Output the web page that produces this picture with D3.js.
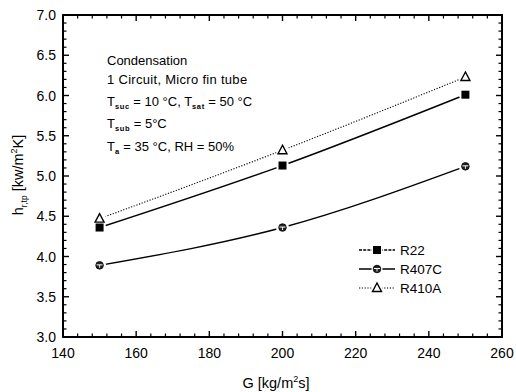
<!DOCTYPE html>
<html>
<head>
<meta charset="utf-8">
<script src="https://cdn.jsdelivr.net/npm/d3@7"></script>
<style>
  html, body { margin: 0; padding: 0; background: #fff; }
  svg { display: block; font-family: "Liberation Sans", Arial, Helvetica, sans-serif; }
</style>
</head>
<body>
<svg id="chart" width="516" height="392"></svg>
<script>
// Mass flux G [kg/m²s]
const massFlux = [150, 200, 250];
// Condensation heat transfer coefficient [kW/m²K]
const r22 = [4.36, 5.13, 6.01];
const r407c = [3.89, 4.36, 5.12];
const r410a = [4.47, 5.32, 6.23];
const seriesNames = ["R22", "R407C", "R410A"];
const xTicks = [140, 160, 180, 200, 220, 240, 260];
const yTicks = [3.0, 3.5, 4.0, 4.5, 5.0, 5.5, 6.0, 6.5, 7.0];

const svg = d3.select("#chart");
const W = 516, H = 392;
const m = { left: 63, right: 14, top: 15, bottom: 55 };
const pw = W - m.left - m.right, ph = H - m.top - m.bottom;

const x = d3.scaleLinear().domain([140, 260]).range([m.left, m.left + pw]);
const y = d3.scaleLinear().domain([3.0, 7.0]).range([m.top + ph, m.top]);

const series = [
  { name: seriesNames[0], values: r22, dash: null, legendDash: "3,1.2", width: 1.4, marker: "square" },
  { name: seriesNames[1], values: r407c, dash: null, legendDash: null, width: 1.4, marker: "circle" },
  { name: seriesNames[2], values: r410a, dash: "1.2,1.6", legendDash: "1.2,1.6", width: 1.1, marker: "triangle" }
];

// minor ticks
const xMinor = d3.range(140, 260.01, 4).filter(v => v % 20 !== 0);
const yMinor = d3.range(30, 70.1, 1).map(v => v / 10).filter(v => Math.round(v * 10) % 5 !== 0);

const g = svg.append("g");

// bottom/top axes with inward ticks
function hTicks(yPos, dir) {
  g.selectAll(null).data(xTicks).enter().append("line")
    .attr("x1", d => x(d)).attr("x2", d => x(d))
    .attr("y1", yPos).attr("y2", yPos + dir * 6)
    .attr("stroke", "#000").attr("stroke-width", 1.4);
  g.selectAll(null).data(xMinor).enter().append("line")
    .attr("x1", d => x(d)).attr("x2", d => x(d))
    .attr("y1", yPos).attr("y2", yPos + dir * 3.5)
    .attr("stroke", "#000").attr("stroke-width", 1.2);
}
function vTicks(xPos, dir) {
  g.selectAll(null).data(yTicks).enter().append("line")
    .attr("y1", d => y(d)).attr("y2", d => y(d))
    .attr("x1", xPos).attr("x2", xPos + dir * 6)
    .attr("stroke", "#000").attr("stroke-width", 1.4);
  g.selectAll(null).data(yMinor).enter().append("line")
    .attr("y1", d => y(d)).attr("y2", d => y(d))
    .attr("x1", xPos).attr("x2", xPos + dir * 3.5)
    .attr("stroke", "#000").attr("stroke-width", 1.2);
}
hTicks(y(3.0), -1);
hTicks(y(7.0), 1);
vTicks(x(140), 1);
vTicks(x(260), -1);

// frame
g.append("rect")
  .attr("x", x(140)).attr("y", y(7.0))
  .attr("width", x(260) - x(140)).attr("height", y(3.0) - y(7.0))
  .attr("fill", "none").attr("stroke", "#000").attr("stroke-width", 2);

// tick labels
g.selectAll(null).data(xTicks).enter().append("text")
  .attr("x", d => x(d)).attr("y", y(3.0) + 21)
  .attr("text-anchor", "middle").attr("font-size", 14)
  .text(d => d3.format("d")(d));
g.selectAll(null).data(yTicks).enter().append("text")
  .attr("x", x(140) - 7).attr("y", d => y(d) + 5)
  .attr("text-anchor", "end").attr("font-size", 14)
  .text(d => d3.format(".1f")(d));

// axis titles
const xt = g.append("text").attr("x", 276).attr("y", 388)
  .attr("text-anchor", "middle").attr("font-size", 14.5);
xt.append("tspan").text("G [kg/m");
xt.append("tspan").attr("font-size", 9).attr("dy", -6).text("2");
xt.append("tspan").attr("dy", 6).text("s]");

const yt = g.append("text")
  .attr("transform", `translate(23,175) rotate(-90)`)
  .attr("text-anchor", "middle").attr("font-size", 14.5);
yt.append("tspan").text("h");
yt.append("tspan").attr("font-size", 8.5).attr("dy", 4).text("r,tp");
yt.append("tspan").attr("dy", -4).text(" [kw/m");
yt.append("tspan").attr("font-size", 9).attr("dy", -6).text("2");
yt.append("tspan").attr("dy", 6).text("K]");

// curves through measured points
const line = d3.line().x((d, i) => x(massFlux[i])).y(d => y(d)).curve(d3.curveMonotoneX);
series.forEach(s => {
  g.append("path").attr("d", line(s.values))
    .attr("fill", "none").attr("stroke", "#000")
    .attr("stroke-width", s.width)
    .attr("stroke-dasharray", s.dash);
});

function drawMarker(sel, type, cx, cy) {
  if (type === "square") {
    sel.append("rect").attr("x", cx - 4).attr("y", cy - 4).attr("width", 8).attr("height", 8).attr("fill", "#000");
  } else if (type === "circle") {
    sel.append("circle").attr("cx", cx).attr("cy", cy).attr("r", 3.8).attr("fill", "#222").attr("stroke", "#000").attr("stroke-width", 0.8);
    sel.append("line").attr("x1", cx - 3).attr("x2", cx + 3).attr("y1", cy - 0.5).attr("y2", cy - 0.5).attr("stroke", "#fff").attr("stroke-width", 1);
    sel.append("line").attr("x1", cx).attr("x2", cx).attr("y1", cy - 0.5).attr("y2", cy + 2.5).attr("stroke", "#fff").attr("stroke-width", 0.9);
  } else {
    const p = [[cx, cy - 5], [cx - 4.5, cy + 3.5], [cx + 4.5, cy + 3.5]];
    sel.append("path").attr("d", "M" + p.join("L") + "Z").attr("fill", "#fff").attr("stroke", "#000").attr("stroke-width", 1.4);
  }
}

// markers with a small white gap around them
series.forEach(s => {
  s.values.forEach((v, i) => {
    g.append("circle").attr("cx", x(massFlux[i])).attr("cy", y(v)).attr("r", 6.5).attr("fill", "#fff");
  });
});
series.forEach(s => {
  s.values.forEach((v, i) => drawMarker(g, s.marker, x(massFlux[i]), y(v)));
});

// legend
const lg = g.append("g");
series.forEach((s, i) => {
  const ly = 250 + i * 19;
  lg.append("line").attr("x1", 359).attr("x2", 395).attr("y1", ly).attr("y2", ly)
    .attr("stroke", "#000").attr("stroke-width", s.width)
    .attr("stroke-dasharray", s.legendDash);
  lg.append("circle").attr("cx", 377).attr("cy", ly).attr("r", 5.5).attr("fill", "#fff");
  drawMarker(lg, s.marker, 377, ly);
  lg.append("text").attr("x", 400).attr("y", ly + 5).attr("font-size", 13.5).text(s.name);
});

// test conditions
const notes = g.append("g").attr("font-size", 13);
notes.append("text").attr("x", 107).attr("y", 65).text("Condensation");
notes.append("text").attr("x", 107).attr("y", 84).attr("letter-spacing", 0.3).text("1 Circuit, Micro fin tube");
function subLine(yPos, parts) {
  const t = notes.append("text").attr("x", 107).attr("y", yPos);
  parts.forEach(p => {
    if (p.sub) t.append("tspan").attr("font-size", 7.5).attr("font-weight", "bold").attr("letter-spacing", 0.6).attr("dy", 3).text(p.sub);
    else t.append("tspan").attr("dy", p.after ? -3 : 0).text(p.text);
  });
}
subLine(106, [{ text: "T" }, { sub: "suc" }, { text: " = 10 °C, T", after: true }, { sub: "sat" }, { text: " = 50 °C", after: true }]);
subLine(128, [{ text: "T" }, { sub: "sub" }, { text: " = 5°C", after: true }]);
subLine(151, [{ text: "T" }, { sub: "a" }, { text: " = 35 °C, RH = 50%", after: true }]);
</script>
</body>
</html>
